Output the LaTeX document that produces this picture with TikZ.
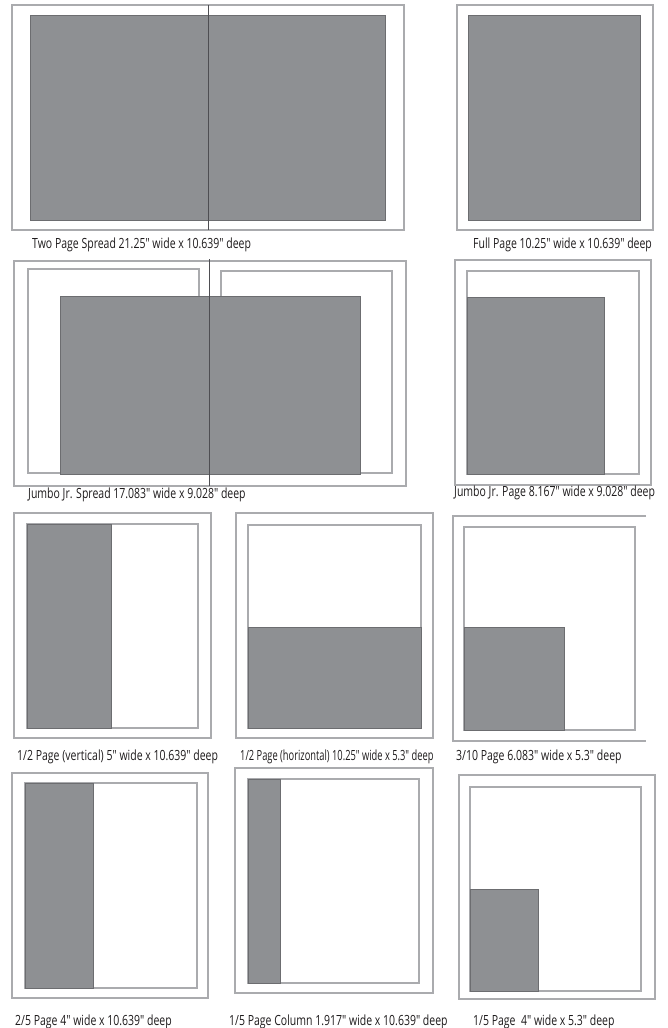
\documentclass[tikz,border=0pt]{standalone}
\usepackage{fontspec}
\newfontfamily\capfont[FakeStretch=0.75]{Open Sans}
\newfontfamily\capfonttight[FakeStretch=0.665]{Open Sans}
\definecolor{adgray}{RGB}{142,144,147}
\definecolor{adedge}{RGB}{108,109,112}
\definecolor{framegray}{RGB}{170,171,174}
\definecolor{spinegray}{RGB}{78,78,82}
\definecolor{captext}{RGB}{30,27,28}
\usetikzlibrary{positioning}

\begin{document}
\begin{tikzpicture}[x=1pt, y=-1pt,
  pageframe/.style={draw=framegray, line width=1.6pt},
  adblock/.style={fill=adgray, draw=adedge, line width=0.8pt},
  spineline/.style={draw=spinegray, line width=1pt},
  sizelabel/.style={anchor=base west, inner sep=0pt, text=captext,
    font=\capfont\fontsize{14}{14}\selectfont}]

  \useasboundingbox (0,0) rectangle (668,1028);

  %% Two page spread
  \draw[pageframe] (12,5) rectangle (404,230);
  \draw[adblock] (30,15) rectangle (385,220);
  \draw[spineline] (208,5) -- (208,230);
  \node[sizelabel] (spreadlbl) at (32,248) {Two Page Spread 21.25" wide x 10.639" deep};

  %% Full page
  \draw[pageframe] (457,5) rectangle (653,230);
  \draw[adblock] (468,15) rectangle (640,220);
  \node[sizelabel] (fulllbl) at (473,248) {Full Page 10.25" wide x 10.639" deep};

  %% Jumbo Jr. spread
  \draw[pageframe] (14,261) rectangle (406,486);
  \draw[pageframe] (28,269) rectangle (199,473);
  \draw[pageframe] (221,271) rectangle (392,473);
  \draw[adblock] (60,296) rectangle (360,474);
  \draw[spineline] (209,259) -- (209,486);
  \node[sizelabel] (jumbospreadlbl) at (28,498) {Jumbo Jr. Spread 17.083" wide x 9.028" deep};

  %% Jumbo Jr. page
  \draw[pageframe] (455,260) rectangle (651,485);
  \draw[pageframe] (467,271) rectangle (639,474);
  \draw[adblock] (467,297) rectangle (604,474);
  \node[sizelabel] (jumbopagelbl) at (454,496) {Jumbo Jr. Page 8.167" wide x 9.028" deep};

  %% 1/2 page vertical
  \draw[pageframe] (14,513) rectangle (211,738);
  \draw[pageframe] (27,524) rectangle (198,728);
  \draw[adblock] (27,524) rectangle (111,728);
  \node[sizelabel] (halfvertlbl) at (17,760) {1/2 Page (vertical) 5" wide x 10.639" deep};

  %% 1/2 page horizontal
  \draw[pageframe] (236,513) rectangle (433,738);
  \draw[pageframe] (248,525) rectangle (421,728);
  \draw[adblock] (248,627) rectangle (421,728);
  \node[sizelabel, font=\capfonttight\fontsize{14}{14}\selectfont] (halfhorlbl) at (240,760) {1/2 Page (horizontal) 10.25" wide x 5.3" deep};

  %% 3/10 page
  \draw[pageframe] (646,516) -- (453,516) -- (453,741) -- (646,741);
  \draw[pageframe] (464,527) rectangle (635,730);
  \draw[adblock] (464,627) rectangle (564,730);
  \node[sizelabel] (threetenlbl) at (456,760) {3/10 Page 6.083" wide x 5.3" deep};

  %% 2/5 page
  \draw[pageframe] (12,773) rectangle (208,998);
  \draw[pageframe] (25,783) rectangle (197,988);
  \draw[adblock] (25,783) rectangle (93,988);
  \node[sizelabel] (twofifthlbl) at (15,1025) {2/5 Page 4" wide x 10.639" deep};

  %% 1/5 page column
  \draw[pageframe] (235,768) rectangle (433,993);
  \draw[pageframe] (248,779) rectangle (419,983);
  \draw[adblock] (248,779) rectangle (280,983);
  \node[sizelabel] (fifthcollbl) at (229,1025) {1/5 Page Column 1.917" wide x 10.639" deep};

  %% 1/5 page
  \draw[pageframe] (459,775) rectangle (655,999);
  \draw[pageframe] (470,787) rectangle (641,991);
  \draw[adblock] (470,889) rectangle (538,991);
  \node[sizelabel] (fifthlbl) at (473,1025) {1/5 Page\ \ 4" wide x 5.3" deep};
\end{tikzpicture}
\end{document}
